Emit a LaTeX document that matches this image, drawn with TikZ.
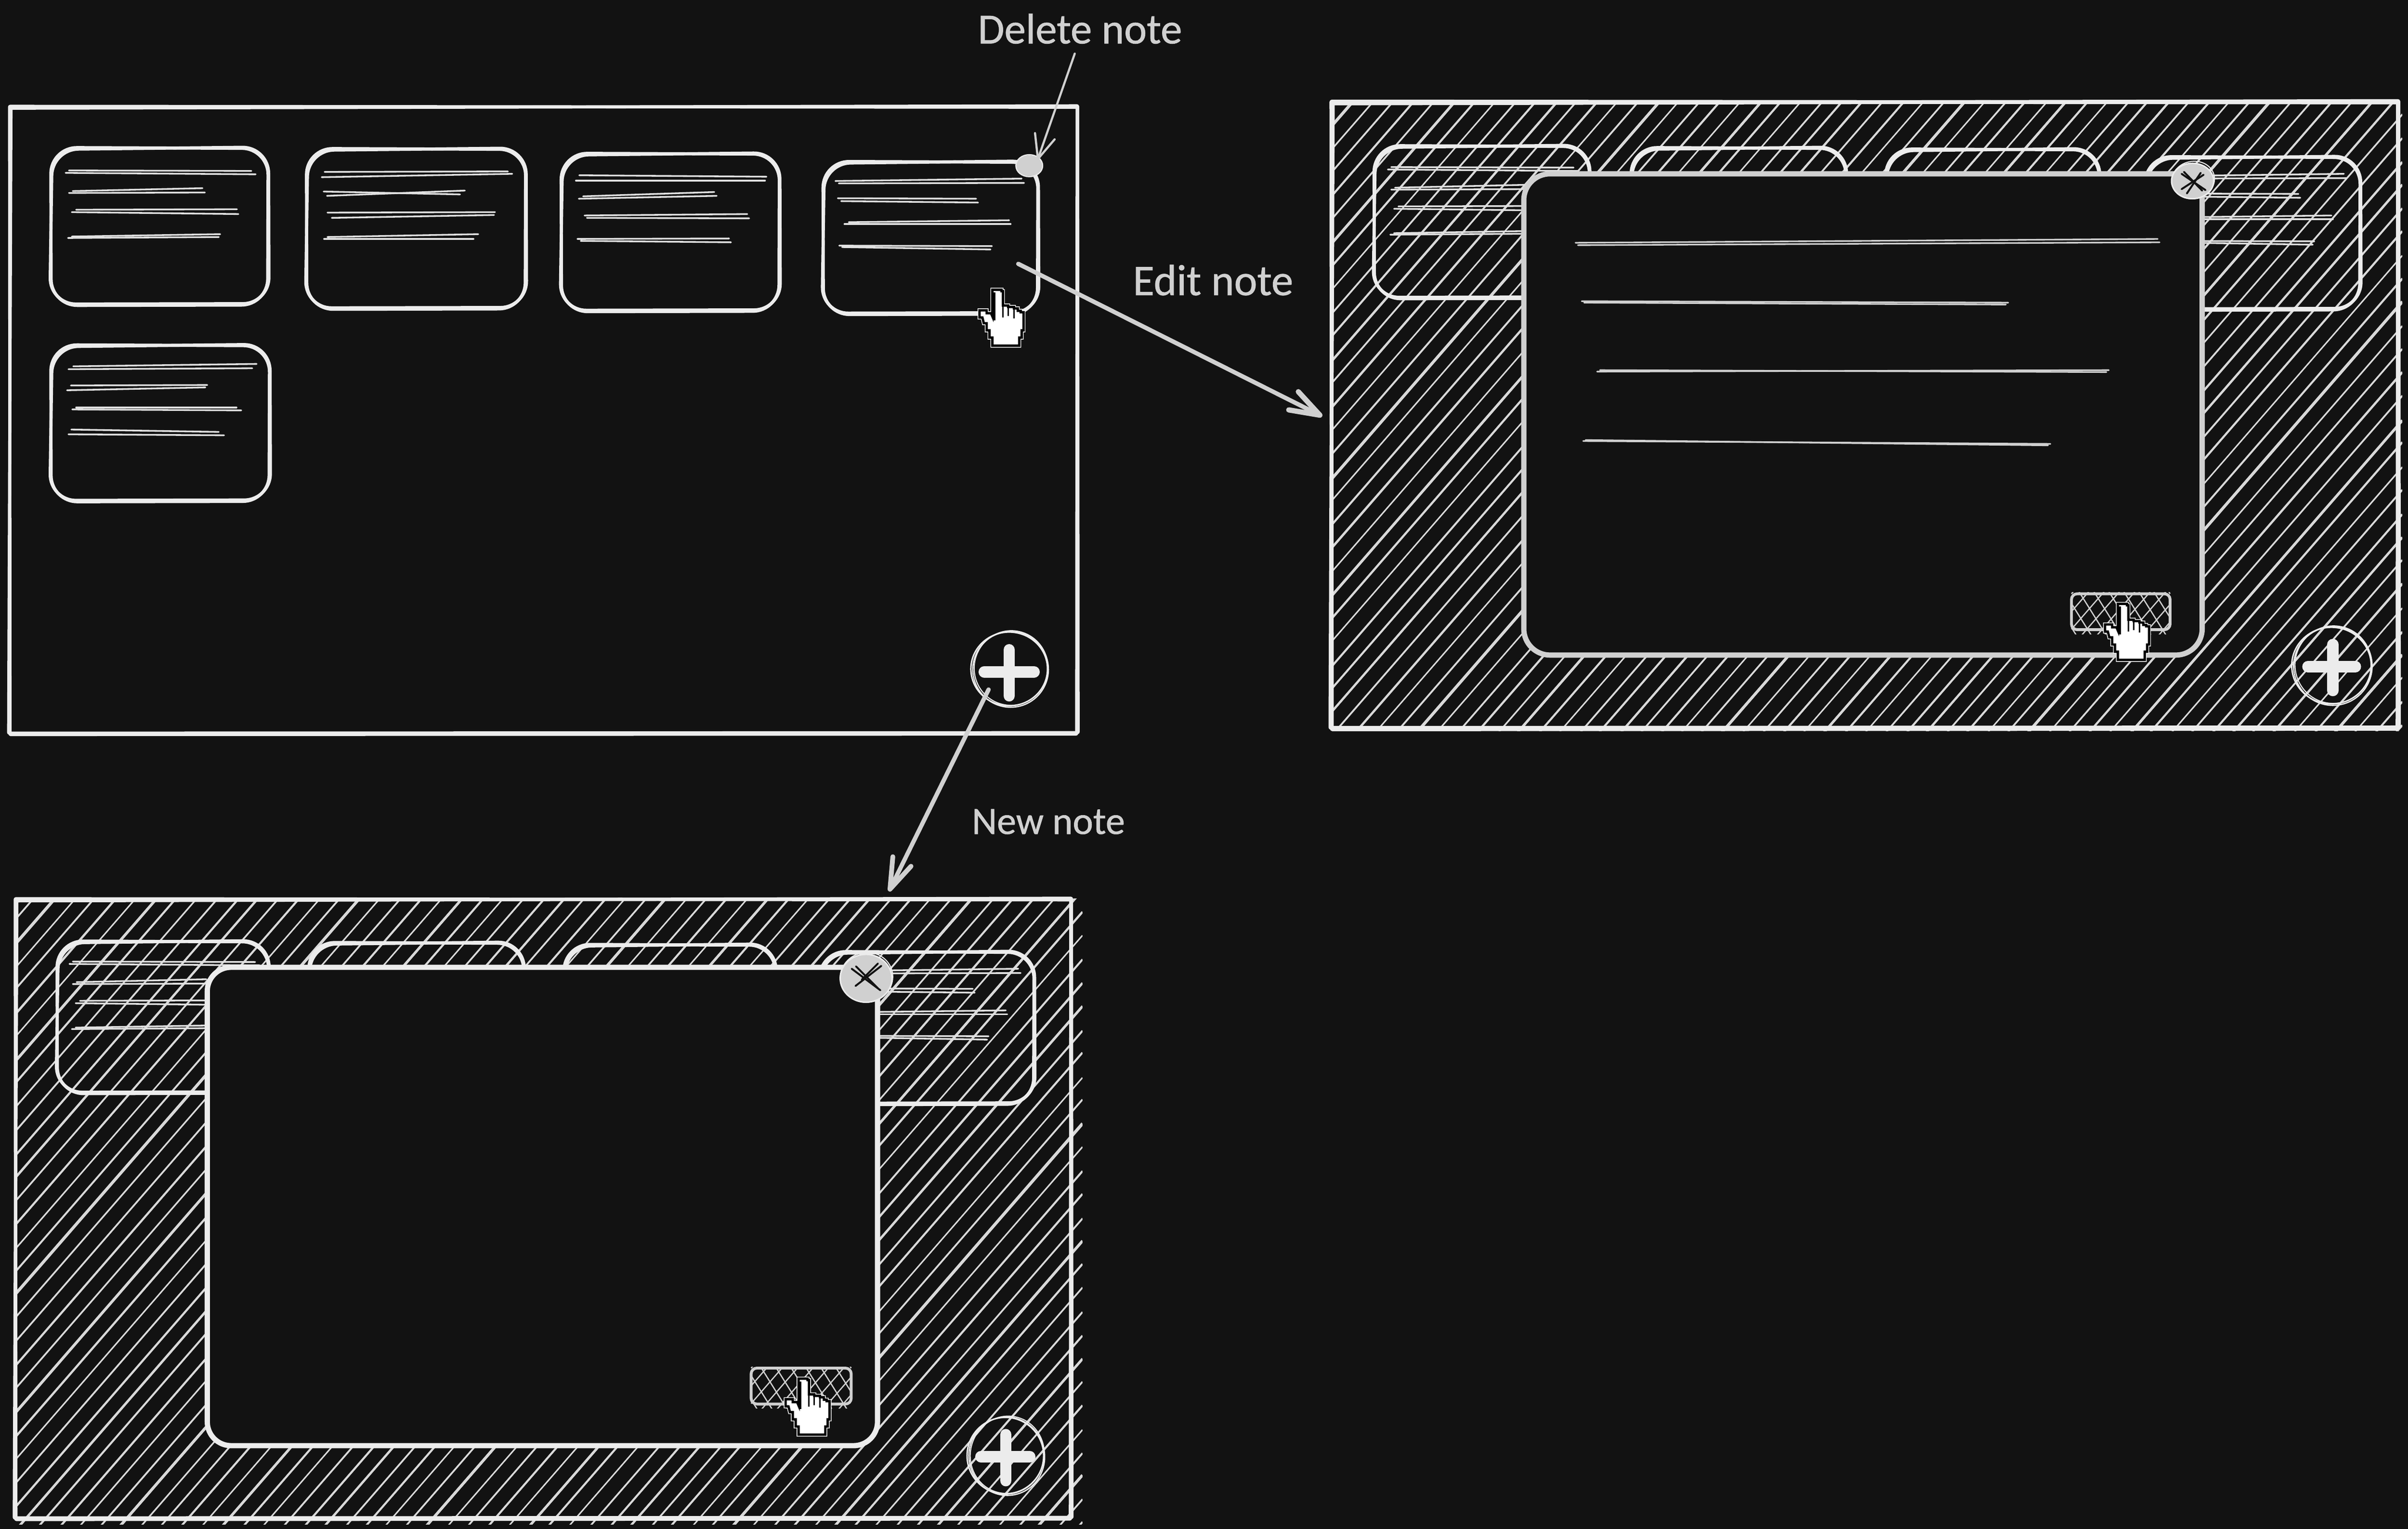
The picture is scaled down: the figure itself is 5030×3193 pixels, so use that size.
\documentclass[tikz,border=0pt]{standalone}
\usepackage{fontspec}
\setmainfont{Carlito}
\newfontfamily\lblfont[FakeBold=0.8]{Carlito}
\definecolor{bgc}{HTML}{121212}
\definecolor{fgl}{HTML}{ECECEC}
\definecolor{fgm}{HTML}{D0D0D0}
\definecolor{hatchc}{HTML}{D9D9D9}
\def\pxu{0.5669pt}
\tikzset{
  sk/.style={line cap=round,line join=round},
  frameline/.style={sk,draw=fgl,line width=#1*\pxu},
  cardline/.style={sk,draw=fgl,line width=6.5*\pxu},
  textline/.style={sk,draw=fgl!95!black,line width=3.6*\pxu},
  panelgray/.style={sk,draw=fgm,line width=3.4*\pxu},
  hatchline/.style={draw=hatchc},
  ring/.style={draw=fgl,line width=3*\pxu},
  plusarm/.style={draw=fgl,line cap=round,line width=24*\pxu},
  arrowthick/.style={sk,draw=fgm,line width=9*\pxu},
  arrowthin/.style={sk,draw=fgm,line width=4.5*\pxu},
  lbl/.style={text=fgm,inner sep=0pt},
  xstroke/.style={sk,draw=bgc,line width=4*\pxu},
}
% two-pass rough rounded box
\newcommand{\roughbox}[6]{%
  \draw[#6,rounded corners=#5*\pxu] (#1,#2) -- (#3,{#2+2}) -- ({#3-1},#4) -- ({#1+1},{#4+1}) -- cycle;
  \draw[#6,rounded corners=#5*\pxu] ({#1+3},{#2+4}) -- ({#3+1},{#2-1}) -- ({#3+2},{#4-3}) -- ({#1-2},{#4-2}) -- cycle;
}
\newcommand{\tline}[4]{\draw[textline] (#1,#2) -- (#3,#4);}
\newcommand{\linesA}{%
  \tline{144}{356}{525}{357}\tline{137}{361}{534}{364}
  \tline{152}{399}{423}{393}\tline{144}{403}{428}{402}
  \tline{159}{438}{495}{437}\tline{150}{443}{498}{447}
  \tline{150}{494}{460}{489}\tline{142}{497}{457}{495}}
\newcommand{\linesD}{%
  \tline{1745}{378}{2134}{373}\tline{1752}{383}{2139}{382}
  \tline{1750}{414}{2039}{415}\tline{1757}{420}{2043}{423}
  \tline{1773}{464}{2108}{460}\tline{1764}{468}{2111}{468}
  \tline{1753}{513}{2072}{514}\tline{1759}{516}{2069}{521}}
\newcommand{\cardBmain}{%
  \roughbox{640}{310}{1098}{645}{55}{cardline}
  \tline{678}{359}{1061}{358}\tline{672}{370}{1070}{363}
  \tline{676}{400}{961}{406}\tline{683}{409}{971}{398}
  \tline{684}{444}{1034}{443}\tline{693}{455}{1032}{449}
  \tline{684}{495}{999}{489}\tline{677}{499}{989}{499}}
\newcommand{\cardCmain}{%
  \roughbox{1172}{320}{1628}{650}{55}{cardline}
  \tline{1210}{366}{1601}{369}\tline{1203}{377}{1598}{377}
  \tline{1218}{410}{1492}{401}\tline{1209}{415}{1497}{409}
  \tline{1221}{450}{1561}{447}\tline{1226}{455}{1565}{456}
  \tline{1206}{499}{1523}{498}\tline{1213}{503}{1527}{506}}
\newcommand{\cardEmain}{%
  \roughbox{106}{720}{563}{1047}{55}{cardline}
  \tline{153}{765}{536}{760}\tline{143}{771}{527}{769}
  \tline{148}{805}{433}{804}\tline{140}{815}{429}{809}
  \tline{159}{851}{494}{851}\tline{151}{855}{504}{857}
  \tline{149}{897}{457}{902}\tline{143}{907}{468}{909}}
% hachure, two strokes per line
\newcommand{\hatchfill}[6]{% x0 y0 x1 y1 cbase N
  \begin{scope}
    \clip (#1,#2) rectangle (#3,#4);
    \foreach \k in {0,...,#6}{
      \pgfmathsetmacro\cc{#5+49*\k+rnd*4-2}
      \pgfmathsetmacro\dd{rnd*3-1.5}
      \pgfmathsetmacro\wd{2.8+mod(\k,3)*0.6+(mod(\k,5)==2)*1.6}
      \draw[hatchline,line width=\wd*\pxu] (#1,{\cc-1.15*#1}) -- (#3,{\cc-1.15*#3});
      \draw[hatchline,line width=\wd*\pxu] (#1,{\cc+\dd-1.15*#1}) -- (#3,{\cc-\dd-1.15*#3});
    }
  \end{scope}}
% cross-hatched button
\newcommand{\crossbtn}[4]{%
  \begin{scope}
    \clip ({#1-3},{#2-3}) rectangle ({#3+4},{#4+9});
    \foreach \k in {0,...,10}{
      \pgfmathsetmacro\ca{#2+1.15*#1+37*\k}
      \pgfmathsetmacro\cb{#2-1.6*#3+50*\k}
      \draw[draw=fgm,line width=2.6*\pxu] (#1,{\ca-1.15*#1}) -- (#3,{\ca-1.15*#3});
      \draw[draw=fgm,line width=2.6*\pxu] (#1,{\cb+1.6*#1}) -- (#3,{\cb+1.6*#3});
    }
  \end{scope}
  \draw[sk,draw=fgm,line width=6*\pxu,rounded corners=12*\pxu] (#1,#2) rectangle (#3,#4);}
% pixel hand
\newcommand{\handpath}{(27,0) -- (46,0) -- (46,3) -- (49,3) -- (49,33) -- (60,33) -- (60,36) -- (72,36) -- (72,39) -- (80,39) -- (80,44) -- (86,44) -- (86,47) -- (92,47) -- (92,85) -- (88,85) -- (88,100) -- (83,100) -- (83,117) -- (27,117) -- (27,100) -- (21,100) -- (21,85) -- (15,85) -- (15,70) -- (9,70) -- (6,58) -- (0,58) -- (0,43) -- (15,43) -- (15,49) -- (24,49) -- (27,56) -- cycle}
\newcommand{\handicon}[2]{%
  \begin{scope}[shift={(#1,#2)},line join=miter,line cap=butt]
    \draw[white,line width=8*\pxu] \handpath;
    \draw[black,line width=5*\pxu,fill=white] \handpath;
    \draw[black,line width=4*\pxu] (31,6) -- (31,64);
    \draw[black,line width=3*\pxu] (49,33) -- (49,58);
    \draw[black,line width=3*\pxu] (60,36) -- (60,55);
    \draw[black,line width=3*\pxu] (72,39) -- (72,60);
  \end{scope}}
\newcommand{\plusmark}[8]{% ring centre, radii, arms
  \draw[ring] (#1,#2) ellipse [x radius=#3,y radius=#4];
  \draw[ring,line width=2.6*\pxu] ({#1+3},{#2+1}) ellipse [x radius={#3-1},y radius=#4+2,rotate=14];
  \draw[ring,line width=2.2*\pxu] ({#1+4},{#2-2}) ellipse [x radius={#3-3},y radius={#4+1},rotate=-16];
  \draw[plusarm] (#5,#7) -- (#6,#7);
  \draw[plusarm] (#8,{#7-46}) -- (#8,{#7+50});
}
\newcommand{\closebtn}[4]{%
  \fill[fgm] (#1,#2) ellipse [x radius=#3,y radius=#4];
  \draw[ring,line width=3*\pxu] (#1,#2) ellipse [x radius=#3,y radius=#4];
  \draw[ring,line width=2.2*\pxu] ({#1+1},{#2-2}) ellipse [x radius=#3+1,y radius=#4+2,rotate=12];
}
\begin{document}
\begin{tikzpicture}[x=0.02cm,y=-0.02cm]
\useasboundingbox (0,0) rectangle (5030,3193);
\fill[bgc] (0,0) rectangle (5030,3193);
\pgfmathsetseed{4242}

% --- main screen
\roughbox{20}{222}{2250}{1533}{1}{frameline=6.5}
\roughbox{106}{308}{560}{637}{55}{cardline}
\linesA
\cardBmain \cardCmain
\roughbox{1719}{337}{2168}{656}{55}{cardline}
\linesD
\cardEmain
\fill[fgm] (2150,346) ellipse [x radius=28,y radius=22];
\draw[ring,line width=2.4*\pxu,draw=fgl] (2150,346) ellipse [x radius=28,y radius=23];
\plusmark{2108}{1397}{80}{77}{2056}{2160}{1403}{2108}
\handicon{2046}{605}

% --- edit-note screen
\hatchfill{2781}{212}{5018}{1527}{3364}{80}
\roughbox{2781}{212}{5009}{1522}{1}{frameline=8}
\roughbox{2870}{304}{3320}{623}{55}{cardline}
\begin{scope}[shift={(2762,-7)}]\linesA\end{scope}
\roughbox{3407}{308}{3856}{630}{55}{cardline}
\roughbox{3939}{311}{4385}{640}{55}{cardline}
\roughbox{4481}{327}{4930}{647}{55}{cardline}
\begin{scope}[shift={(2762,-10)}]\linesD\end{scope}
\fill[bgc,rounded corners=55*\pxu] (3183,363) rectangle (4600,1368);
\draw[sk,draw=fgm,line width=11*\pxu,rounded corners=55*\pxu] (3183,363) rectangle (4600,1368);
\draw[panelgray] (3291,507) -- (4507,499); \draw[panelgray] (3296,512) -- (4511,506);
\draw[panelgray] (3304,629) -- (4195,632); \draw[panelgray] (3309,632) -- (4190,636);
\draw[panelgray] (3336,776) -- (4405,773); \draw[panelgray] (3342,773) -- (4400,777);
\draw[panelgray] (3307,921) -- (4283,927); \draw[panelgray] (3312,919) -- (4278,930);
\crossbtn{4327}{1240}{4533}{1315}
\closebtn{4580}{378}{44}{37}
\draw[xstroke] (4557,363) -- (4607,397);
\draw[xstroke] (4562,359) -- (4600,398);
\draw[xstroke] (4603,365) -- (4557,395);
\draw[xstroke] (4597,361) -- (4568,404);
\plusmark{4870}{1390}{83}{80}{4821}{4920}{1392}{4873}
\handicon{4397}{1261}

% --- new-note screen
\hatchfill{32}{1877}{2261}{3183}{1909}{80}
\roughbox{32}{1877}{2237}{3172}{1}{frameline=7}
\roughbox{119}{1965}{561}{2283}{55}{cardline}
\begin{scope}[shift={(8,1652)}]\linesA\end{scope}
\roughbox{645}{1968}{1094}{2290}{55}{cardline}
\roughbox{1178}{1972}{1620}{2290}{55}{cardline}
\roughbox{1712}{1987}{2160}{2306}{55}{cardline}
\begin{scope}[shift={(-7,1650)}]\linesD\end{scope}
\fill[bgc,rounded corners=50*\pxu] (433,2020) rectangle (1833,3019);
\draw[sk,draw=fgl,line width=11*\pxu,rounded corners=50*\pxu] (433,2020) rectangle (1833,3019);
\crossbtn{1569}{2857}{1778}{2932}
\closebtn{1809}{2043}{54}{50}
\draw[xstroke] (1779,2023) -- (1839,2068);
\draw[xstroke] (1788,2018) -- (1834,2064);
\draw[xstroke] (1841,2017) -- (1787,2059);
\draw[xstroke] (1834,2012) -- (1800,2046);
\plusmark{2100}{3040}{80}{80}{2049}{2151}{3042}{2101}
\handicon{1641}{2879}

% --- labels
\node[lbl,font={\lblfont\fontsize{51}{51}\selectfont}] (deleteLabel) at (2256,60) {Delete note};
\node[lbl,font={\lblfont\fontsize{52}{52}\selectfont}] (editLabel) at (2534,585) {Edit note};
\node[lbl,font={\lblfont\fontsize{46}{46}\selectfont}] (newLabel) at (2190,1716) {New note};

% --- connectors
\coordinate (deleteFrom) at (2245,112);
\coordinate (deleteTip) at (2168,332);
\coordinate (deleteBarbA) at (2162,278);
\coordinate (deleteBarbB) at (2203,291);
\draw[arrowthin] (deleteFrom) -- (deleteTip);
\draw[arrowthin] (deleteBarbA) -- (deleteTip) -- (deleteBarbB);

\coordinate (editFrom) at (2127,551);
\coordinate (editTip) at (2757,867);
\coordinate (editBarbA) at (2712,818);
\coordinate (editBarbB) at (2692,856);
\draw[arrowthick] (editFrom) -- (editTip);
\draw[arrowthick,line width=11*\pxu] (editBarbA) -- (editTip) -- (editBarbB);

\coordinate (newFrom) at (2065,1440);
\coordinate (newTip) at (1859,1857);
\coordinate (newBarbA) at (1865,1789);
\coordinate (newBarbB) at (1903,1809);
\draw[arrowthick] (newFrom) -- (newTip);
\draw[arrowthick,line width=10*\pxu] (newBarbA) -- (newTip) -- (newBarbB);
\end{tikzpicture}
\end{document}
